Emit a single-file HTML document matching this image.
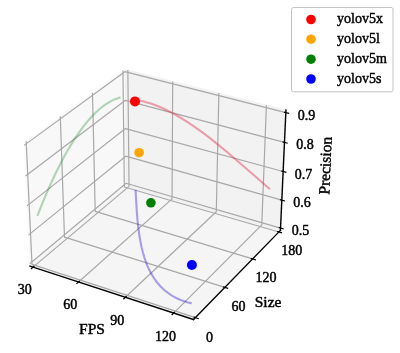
<!DOCTYPE html>
<html><head><meta charset="utf-8"><style>html,body{margin:0;padding:0;background:#fff;width:400px;height:353px;overflow:hidden}text{font-family:"Liberation Serif",serif;stroke:#000;stroke-width:0.45px;paint-order:stroke}</style></head>
<body>
<svg width="400" height="353" viewBox="0 0 400 353" style="display:block;filter:blur(0.5px)">
<defs>
<style type="text/css">*{stroke-linejoin: round; stroke-linecap: butt}</style>
</defs>
<g id="figure_1">
<g id="patch_1">
<path d="M 0 353
L 400 353
L 400 0
L 0 0
z
" style="fill: #ffffff"/>
</g>
<g id="patch_2">
<path d="M 7.929564 337.945252
L 299.191268 337.945252
L 299.191268 46.683548
L 7.929564 46.683548
z
" style="fill: #ffffff"/>
</g>
<g id="pane3d_1">
<g id="patch_3">
<path d="M 29.921831 266.12945
L 126.105958 185.506008
L 124.768907 69.232591
L 23.981873 142.782377
" style="fill: #f2f2f2; opacity: 0.5; stroke: #f2f2f2; stroke-linejoin: miter"/>
</g>
</g>
<g id="pane3d_2">
<g id="patch_4">
<path d="M 126.105958 185.506008
L 280.447163 230.366903
L 285.955057 110.088582
L 124.768907 69.232591
" style="fill: #e6e6e6; opacity: 0.5; stroke: #e6e6e6; stroke-linejoin: miter"/>
</g>
</g>
<g id="pane3d_3">
<g id="patch_5">
<path d="M 29.921831 266.12945
L 193.531047 319.564219
L 280.447163 230.366903
L 126.105958 185.506008
" style="fill: #ececec; opacity: 0.5; stroke: #ececec; stroke-linejoin: miter"/>
</g>
</g>
<g id="grid3d_1">
<g id="Line3DCollection_1">
<path d="M 33.02911 267.144287
L 129.049941 186.361707
L 127.837093 70.010287
" style="fill: none; stroke: #a8a8a8; stroke-width: 1.2"/>
<path d="M 78.493285 281.992887
L 172.068341 198.865458
L 172.698569 81.381364
" style="fill: none; stroke: #a8a8a8; stroke-width: 1.2"/>
<path d="M 125.345241 297.294735
L 216.289468 211.718794
L 218.86934 93.084308
" style="fill: none; stroke: #a8a8a8; stroke-width: 1.2"/>
<path d="M 173.649505 313.070908
L 261.764477 224.936583
L 266.407572 105.133864
" style="fill: none; stroke: #a8a8a8; stroke-width: 1.2"/>
</g>
</g>
<g id="grid3d_2">
<g id="Line3DCollection_2">
<path d="M 26.181226 141.17739
L 32.012959 264.376625
L 195.428858 317.616598
" style="fill: none; stroke: #a8a8a8; stroke-width: 1.2"/>
<path d="M 60.290919 116.28569
L 64.488527 237.154961
L 224.855402 287.417726
" style="fill: none; stroke: #a8a8a8; stroke-width: 1.2"/>
<path d="M 92.485459 92.791581
L 95.217315 211.397481
L 252.618448 258.92601
" style="fill: none; stroke: #a8a8a8; stroke-width: 1.2"/>
<path d="M 122.921737 70.580572
L 124.336565 186.989148
L 278.855178 232.000671
" style="fill: none; stroke: #a8a8a8; stroke-width: 1.2"/>
</g>
</g>
<g id="grid3d_3">
<g id="Line3DCollection_3">
<path d="M 280.552688 228.062503
L 126.080289 183.27372
L 29.808216 263.770162
" style="fill: none; stroke: #a8a8a8; stroke-width: 1.2"/>
<path d="M 281.833266 200.09796
L 125.768947 156.198679
L 28.428882 235.127384
" style="fill: none; stroke: #a8a8a8; stroke-width: 1.2"/>
<path d="M 283.140776 171.545274
L 125.451373 128.581625
L 27.019421 205.85903
" style="fill: none; stroke: #a8a8a8; stroke-width: 1.2"/>
<path d="M 284.476078 142.385694
L 125.127377 100.406118
L 25.578838 175.944377
" style="fill: none; stroke: #a8a8a8; stroke-width: 1.2"/>
<path d="M 285.840067 112.599662
L 124.796763 71.655047
L 24.106088 145.361779
" style="fill: none; stroke: #a8a8a8; stroke-width: 1.2"/>
</g>
</g>
<g id="axis3d_1">
<g id="line2d_1">
<path d="M 29.921831 266.12945
L 193.531047 319.564219
" style="fill: none; stroke: #000000; stroke-width: 1.4; stroke-linecap: square"/>
</g>
<g id="xtick_1">
<g id="line2d_2">
<path d="M 33.865102 266.440965
L 31.353548 268.553942
" style="fill: none; stroke: #000000; stroke-width: 1.2; stroke-linecap: square"/>
</g>
<g id="text_1">
<text style="font-size: 14px; font-family: 'Liberation Serif'; text-anchor: middle" x="24.83895" y="293.888755" transform="rotate(-0 24.83895 293.888755)">30</text>
</g>
</g>
<g id="xtick_2">
<g id="line2d_3">
<path d="M 79.308976 281.268268
L 76.858359 283.445274
" style="fill: none; stroke: #000000; stroke-width: 1.2; stroke-linecap: square"/>
</g>
<g id="text_2">
<text style="font-size: 14px; font-family: 'Liberation Serif'; text-anchor: middle" x="70.349523" y="309.049834" transform="rotate(-0 70.349523 309.049834)">60</text>
</g>
</g>
<g id="xtick_3">
<g id="line2d_4">
<path d="M 126.138993 296.547837
L 123.754234 298.791828
" style="fill: none; stroke: #000000; stroke-width: 1.2; stroke-linecap: square"/>
</g>
<g id="text_3">
<text style="font-size: 14px; font-family: 'Liberation Serif'; text-anchor: middle" x="117.254567" y="324.675458" transform="rotate(-0 117.254567 324.675458)">90</text>
</g>
</g>
<g id="xtick_4">
<g id="line2d_5">
<path d="M 174.419557 312.300687
L 172.10595 314.614802
" style="fill: none; stroke: #000000; stroke-width: 1.2; stroke-linecap: square"/>
</g>
<g id="text_4">
<text style="font-size: 14px; font-family: 'Liberation Serif'; text-anchor: middle" x="165.61917" y="340.78731" transform="rotate(-0 165.61917 340.78731)">120</text>
</g>
</g>
<g id="text_5">
<text style="font-size: 15.5px; font-family: 'Liberation Serif'; text-anchor: middle" x="91.976989" y="333.95935" transform="rotate(-0 91.976989 333.95935)">FPS</text>
</g>
</g>
<g id="axis3d_2">
<g id="line2d_6">
<path d="M 280.447163 230.366903
L 193.531047 319.564219
" style="fill: none; stroke: #000000; stroke-width: 1.4; stroke-linecap: square"/>
</g>
<g id="xtick_5">
<g id="line2d_7">
<path d="M 194.051463 317.16785
L 198.187226 318.515259
" style="fill: none; stroke: #000000; stroke-width: 1.2; stroke-linecap: square"/>
</g>
<g id="text_6">
<text style="font-size: 14px; font-family: 'Liberation Serif'; text-anchor: middle" x="209.484263" y="341.983925" transform="rotate(-0 209.484263 341.983925)">0</text>
</g>
</g>
<g id="xtick_6">
<g id="line2d_8">
<path d="M 223.505705 286.994699
L 227.558198 288.264846
" style="fill: none; stroke: #000000; stroke-width: 1.2; stroke-linecap: square"/>
</g>
<g id="text_7">
<text style="font-size: 14px; font-family: 'Liberation Serif'; text-anchor: middle" x="238.518792" y="311.341092" transform="rotate(-0 238.518792 311.341092)">60</text>
</g>
</g>
<g id="xtick_7">
<g id="line2d_9">
<path d="M 251.295563 258.526554
L 255.267459 259.7259
" style="fill: none; stroke: #000000; stroke-width: 1.2; stroke-linecap: square"/>
</g>
<g id="text_8">
<text style="font-size: 14px; font-family: 'Liberation Serif'; text-anchor: middle" x="265.911061" y="282.431489" transform="rotate(-0 265.911061 282.431489)">120</text>
</g>
</g>
<g id="xtick_8">
<g id="line2d_10">
<path d="M 277.558237 231.62287
L 281.452149 232.757173
" style="fill: none; stroke: #000000; stroke-width: 1.2; stroke-linecap: square"/>
</g>
<g id="text_9">
<text style="font-size: 14px; font-family: 'Liberation Serif'; text-anchor: middle" x="291.796572" y="255.112108" transform="rotate(-0 291.796572 255.112108)">180</text>
</g>
</g>
<g id="text_10">
<text style="font-size: 15.5px; font-family: 'Liberation Serif'; text-anchor: middle" x="268.06221" y="306.94767" transform="rotate(-0 268.06221 306.94767)">Size</text>
</g>
</g>
<g id="axis3d_3">
<g id="line2d_11">
<path d="M 280.447163 230.366903
L 285.955057 110.088582
" style="fill: none; stroke: #000000; stroke-width: 1.4; stroke-linecap: square"/>
</g>
<g id="xtick_9">
<g id="line2d_12">
<path d="M 279.256187 227.686587
L 283.148776 228.815231
" style="fill: none; stroke: #000000; stroke-width: 1.2; stroke-linecap: square"/>
</g>
<g id="text_11">
<text style="font-size: 14px; font-family: 'Liberation Serif'; text-anchor: middle" x="300.405235" y="234.950057" transform="rotate(-0 300.405235 234.950057)">0.5</text>
</g>
</g>
<g id="xtick_10">
<g id="line2d_13">
<path d="M 280.522765 199.72933
L 284.457418 200.836107
" style="fill: none; stroke: #000000; stroke-width: 1.2; stroke-linecap: square"/>
</g>
<g id="text_12">
<text style="font-size: 14px; font-family: 'Liberation Serif'; text-anchor: middle" x="301.887929" y="207.040386" transform="rotate(-0 301.887929 207.040386)">0.6</text>
</g>
</g>
<g id="xtick_11">
<g id="line2d_14">
<path d="M 281.815971 171.184322
L 285.793606 172.268058
" style="fill: none; stroke: #000000; stroke-width: 1.2; stroke-linecap: square"/>
</g>
<g id="text_13">
<text style="font-size: 14px; font-family: 'Liberation Serif'; text-anchor: middle" x="303.401712" y="178.545511" transform="rotate(-0 303.401712 178.545511)">0.7</text>
</g>
</g>
<g id="xtick_12">
<g id="line2d_15">
<path d="M 283.136653 142.03283
L 287.158217 143.092289
" style="fill: none; stroke: #000000; stroke-width: 1.2; stroke-linecap: square"/>
</g>
<g id="text_14">
<text style="font-size: 14px; font-family: 'Liberation Serif'; text-anchor: middle" x="304.947571" y="149.446833" transform="rotate(-0 304.947571 149.446833)">0.8</text>
</g>
</g>
<g id="xtick_13">
<g id="line2d_16">
<path d="M 284.485697 112.255318
L 288.55217 113.289203
" style="fill: none; stroke: #000000; stroke-width: 1.2; stroke-linecap: square"/>
</g>
<g id="text_15">
<text style="font-size: 14px; font-family: 'Liberation Serif'; text-anchor: middle" x="306.526538" y="119.724954" transform="rotate(-0 306.526538 119.724954)">0.9</text>
</g>
</g>
<g id="text_16">
<text style="font-size: 15.5px; font-family: 'Liberation Serif'; text-anchor: middle" x="330.473843" y="165.873186" transform="rotate(-87.378092 330.473843 165.873186)">Precision</text>
</g>
</g>
<g id="axes_1">
<g id="line2d_17">
<path d="M 137.14091 100.154352
L 141.700873 101.049343
L 146.276137 102.198357
L 150.865519 103.591693
L 155.467889 105.219488
L 160.082174 107.071733
L 165.368933 109.450406
L 170.668511 112.093668
L 175.979593 114.986031
L 181.966811 118.518225
L 187.96551 122.323473
L 194.642528 126.844322
L 201.330403 131.643307
L 208.698012 137.206212
L 216.746923 143.566785
L 226.15097 151.302471
L 236.915446 160.454205
L 253.097776 174.536901
L 270.010156 189.253935
L 270.010156 189.253935
" clip-path="url(#p29e2683728)" style="fill: none; stroke: #e02647; stroke-opacity: 0.42; stroke-width: 2.1"/>
</g>
<g id="line2d_18">
<path d="M 37.394049 215.866519
L 42.035985 204.122666
L 46.688153 192.979874
L 50.923787 183.3751
L 55.163221 174.272969
L 59.40425 165.675456
L 63.644687 157.584005
L 67.882362 149.999528
L 71.692133 143.60729
L 75.496379 137.62594
L 79.293572 132.055059
L 83.082201 126.893897
L 86.86078 122.141373
L 90.209898 118.258835
L 93.54891 114.696872
L 96.876821 111.454097
L 100.192657 108.52893
L 103.495461 105.919608
L 106.784295 103.624186
L 110.058241 101.640542
L 112.910026 100.158811
L 115.749138 98.912392
L 118.575003 97.899551
L 120.585055 97.318091
L 120.585055 97.318091
" clip-path="url(#p29e2683728)" style="fill: none; stroke: #1f8e35; stroke-opacity: 0.34; stroke-width: 2.1"/>
</g>
<g id="line2d_19">
<path d="M 135.535554 189.869791
L 136.704602 210.225894
L 137.510564 220.18645
L 138.346193 227.994625
L 139.307835 235.036382
L 140.37171 241.296134
L 141.654095 247.452644
L 143.001579 252.814419
L 144.566497 258.049475
L 146.130903 262.508628
L 147.892376 266.838238
L 149.569872 270.434296
L 151.411572 273.913506
L 153.426348 277.265609
L 155.622979 280.480221
L 158.010122 283.546852
L 160.596278 286.454934
L 162.909439 288.749561
L 165.371284 290.920555
L 167.986393 292.961766
L 170.759212 294.867059
L 173.69404 296.630335
L 176.795015 298.245542
L 180.066096 299.706693
L 183.51105 301.007881
L 187.133437 302.143297
L 190.936594 303.107247
L 191.719195 303.278969
L 191.719195 303.278969
" clip-path="url(#p29e2683728)" style="fill: none; stroke: #220cd4; stroke-opacity: 0.38; stroke-width: 2.1"/>
</g>
</g>
</g>
<defs>
<clipPath id="p29e2683728">
<rect x="7.929564" y="46.683548" width="291.261704" height="291.261704"/>
</clipPath>
</defs>
<g id="pts">
<circle cx="135" cy="101.4" r="5" fill="#ff0000"/>
<circle cx="139.1" cy="152.7" r="4.8" fill="#ffa500"/>
<circle cx="150.9" cy="202.8" r="4.8" fill="#008000"/>
<circle cx="191.9" cy="265.0" r="5" fill="#0000ff"/>
</g>
<g id="legend">
<rect x="291.5" y="7.5" width="101.5" height="84.3" rx="2" ry="2" fill="#ffffff" fill-opacity="0.8" stroke="#c4c4c4" stroke-width="1"/>
<circle cx="311" cy="19.5" r="4.8" fill="#ff0000"/>
<circle cx="311" cy="39.2" r="4.8" fill="#ffa500"/>
<circle cx="311" cy="59.2" r="4.8" fill="#008000"/>
<circle cx="311" cy="79" r="4.8" fill="#0000ff"/>
<g style="font-family:'Liberation Serif';font-size:14px;fill:#000">
<text x="337" y="23.0">yolov5x</text>
<text x="337" y="42.9">yolov5l</text>
<text x="337" y="62.9">yolov5m</text>
<text x="337" y="83.0">yolov5s</text>
</g>
</g>

</svg>

</body></html>
